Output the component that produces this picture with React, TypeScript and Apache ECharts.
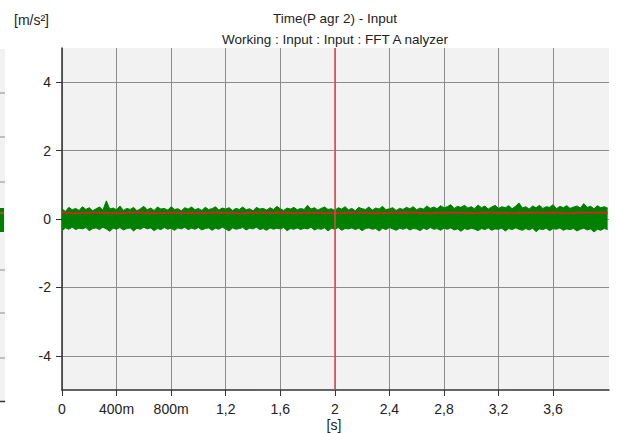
import React, { useEffect, useRef } from 'react';
import * as echarts from 'echarts';

// ---- data ----
const sampleStep = 0.025; // s between envelope samples
const upperEnvelope = [
  0.30, 0.22, 0.34, 0.27, 0.31, 0.25, 0.36, 0.28, 0.33, 0.24,
  0.30, 0.35, 0.26, 0.53, 0.29, 0.32, 0.27, 0.38, 0.25, 0.31,
  0.28, 0.34, 0.24, 0.30, 0.37, 0.27, 0.32, 0.25, 0.35, 0.29,
  0.31, 0.26, 0.36, 0.28, 0.30, 0.24, 0.33, 0.29, 0.35, 0.27,
  0.31, 0.25, 0.34, 0.28, 0.30, 0.36, 0.26, 0.32, 0.29, 0.33,
  0.25, 0.31, 0.28, 0.35, 0.27, 0.30, 0.24, 0.34, 0.29, 0.31,
  0.26, 0.33, 0.28, 0.37, 0.30, 0.25, 0.32, 0.29, 0.34, 0.27,
  0.31, 0.28, 0.40, 0.29, 0.33, 0.26, 0.31, 0.35, 0.28, 0.30,
  0.25, 0.33, 0.29, 0.36, 0.27, 0.31, 0.24, 0.34, 0.30, 0.28,
  0.35, 0.26, 0.32, 0.29, 0.37, 0.27, 0.30, 0.33, 0.25, 0.31,
  0.28, 0.34, 0.30, 0.36, 0.27, 0.32, 0.29, 0.38, 0.31, 0.35,
  0.30, 0.39, 0.33, 0.36, 0.42, 0.31, 0.37, 0.34, 0.40, 0.32,
  0.36, 0.30, 0.41, 0.33, 0.38, 0.29, 0.35, 0.40, 0.31, 0.36,
  0.33, 0.39, 0.30, 0.37, 0.47, 0.32, 0.36, 0.29, 0.38, 0.33,
  0.40, 0.31, 0.36, 0.34, 0.42, 0.30, 0.37, 0.33, 0.39, 0.31,
  0.35, 0.38, 0.32, 0.45, 0.34, 0.37, 0.30, 0.39, 0.33, 0.36,
  0.32,
];
const lowerEnvelope = [
  -0.35, -0.26, -0.30, -0.24, -0.31, -0.27, -0.29, -0.25, -0.34, -0.28,
  -0.26, -0.31, -0.24, -0.29, -0.36, -0.27, -0.30, -0.25, -0.32, -0.28,
  -0.26, -0.35, -0.27, -0.30, -0.24, -0.29, -0.26, -0.34, -0.28, -0.31,
  -0.25, -0.30, -0.27, -0.33, -0.26, -0.29, -0.24, -0.31, -0.27, -0.30,
  -0.25, -0.32, -0.28, -0.26, -0.33, -0.27, -0.30, -0.24, -0.29, -0.35,
  -0.26, -0.30, -0.28, -0.25, -0.32, -0.27, -0.29, -0.24, -0.31, -0.28,
  -0.33, -0.26, -0.30, -0.27, -0.29, -0.25, -0.34, -0.28, -0.30, -0.26,
  -0.31, -0.27, -0.29, -0.24, -0.32, -0.28, -0.30, -0.26, -0.35, -0.27,
  -0.30, -0.25, -0.33, -0.28, -0.29, -0.26, -0.31, -0.27, -0.34, -0.28,
  -0.26, -0.30, -0.28, -0.35, -0.27, -0.31, -0.25, -0.29, -0.33, -0.27,
  -0.30, -0.26, -0.32, -0.28, -0.29, -0.34, -0.27, -0.31, -0.25, -0.30,
  -0.28, -0.33, -0.27, -0.30, -0.26, -0.32, -0.29, -0.36, -0.28, -0.31,
  -0.27, -0.30, -0.34, -0.28, -0.31, -0.26, -0.33, -0.29, -0.30, -0.27,
  -0.35, -0.28, -0.31, -0.26, -0.30, -0.33, -0.28, -0.32, -0.27, -0.37,
  -0.29, -0.31, -0.27, -0.34, -0.28, -0.30, -0.26, -0.33, -0.29, -0.31,
  -0.28, -0.35, -0.30, -0.27, -0.32, -0.29, -0.38, -0.30, -0.33, -0.28,
  -0.31,
];
const redStep = 0.1;
const redLevel = [
  0.18, 0.17, 0.18, 0.18, 0.17, 0.18, 0.19, 0.17, 0.18, 0.18,
  0.17, 0.18, 0.18, 0.17, 0.18, 0.18, 0.19, 0.17, 0.18, 0.18,
  0.17, 0.18, 0.18, 0.17, 0.18, 0.19, 0.18, 0.17, 0.18, 0.18,
  0.17, 0.18, 0.18, 0.17, 0.18, 0.18, 0.19, 0.17, 0.18, 0.18,
  0.18,
];
const cursorTime = 2;
const xTickValues = [0, 0.4, 0.8, 1.2, 1.6, 2, 2.4, 2.8, 3.2, 3.6];
const xTickLabels = ['0', '400m', '800m', '1,2', '1,6', '2', '2,4', '2,8', '3,2', '3,6'];
const yTickValues = [-4, -2, 0, 2, 4];
const yTickLabels = ['-4', '-2', '0', '2', '4'];
const titleLine1 = 'Time(P agr 2) - Input';
const titleLine2 = 'Working : Input : Input : FFT A nalyzer';
const yUnit = '[m/s²]';
const xUnit = '[s]';

const FONT = '"Liberation Sans", Arial, sans-serif';
const GREEN = '#008000';

function labelFor(values: number[], labels: string[], v: number): string {
  const i = values.findIndex((t) => Math.abs(t - v) < 1e-6);
  return i >= 0 ? labels[i] : '';
}

export default function App() {
  const ref = useRef<HTMLDivElement>(null);
  useEffect(() => {
    document.body.style.margin = '0';
    if (!ref.current) return;
    const chart = echarts.init(ref.current, undefined, { renderer: 'svg' });
    const upperData = upperEnvelope.map((v, i) => [i * sampleStep, v]);
    const lowerData = lowerEnvelope.map((v, i) => [i * sampleStep, v]);
    const redData = redLevel.map((v, i) => [i * redStep, v]);
    const textEl = (text: string, x: number, y: number, align: string, size: number) => ({
      type: 'text',
      x,
      y,
      silent: true,
      style: { text, fill: '#222', font: `${size}px ${FONT}`, align, verticalAlign: 'middle' },
    });
    chart.setOption({
      animation: false,
      grid: {
        left: 62, right: 8, top: 48, bottom: 43,
        show: true, backgroundColor: '#f2f2f2', borderWidth: 0,
      },
      xAxis: {
        type: 'value', min: 0, max: 4.01,
        axisLine: { show: true, onZero: false, lineStyle: { color: '#333', width: 1.5 } },
        axisTick: { show: true, length: 6, customValues: xTickValues, lineStyle: { color: '#333' } },
        axisLabel: {
          customValues: xTickValues, margin: 12, color: '#222', fontSize: 14, fontFamily: FONT,
          formatter: (v: number) => labelFor(xTickValues, xTickLabels, v),
        },
        splitLine: { show: true, lineStyle: { color: '#8c8c8c', width: 1 } },
      },
      yAxis: {
        type: 'value', min: -5, max: 5,
        axisLine: { show: true, onZero: false, lineStyle: { color: '#333', width: 1.5 } },
        axisTick: { show: true, length: 6, customValues: yTickValues, lineStyle: { color: '#333' } },
        axisLabel: {
          customValues: yTickValues, margin: 11, color: '#222', fontSize: 14, fontFamily: FONT,
          formatter: (v: number) => labelFor(yTickValues, yTickLabels, v),
        },
        splitLine: { show: true, lineStyle: { color: '#8c8c8c', width: 1 } },
      },
      series: [
        {
          type: 'line', data: upperData, symbol: 'none', z: 2,
          lineStyle: { color: GREEN, width: 1 }, areaStyle: { color: GREEN, opacity: 1 },
        },
        {
          type: 'line', data: lowerData, symbol: 'none', z: 2,
          lineStyle: { color: GREEN, width: 1 }, areaStyle: { color: GREEN, opacity: 1 },
        },
        {
          type: 'line', data: redData, symbol: 'none', z: 3,
          lineStyle: { color: '#c42a1e', width: 2 },
          markLine: {
            symbol: 'none', silent: true, animation: false,
            label: { show: false },
            lineStyle: { color: '#e04848', width: 1.5, type: 'solid' },
            data: [{ xAxis: cursorTime }],
          },
        },
      ],
      graphic: [
        textEl(yUnit, 14, 20, 'left', 14),
        textEl(titleLine1, 335, 18, 'center', 13.5),
        textEl(titleLine2, 335, 39, 'center', 13.5),
        textEl(xUnit, 334, 425, 'center', 14),
        // sliver of neighbouring panel at the left edge
        { type: 'rect', silent: true, shape: { x: 0, y: 49, width: 5, height: 353 }, style: { fill: '#f2f2f2' } },
        ...[93, 137, 182, 270, 313, 358].map((y) => ({
          type: 'line', silent: true, shape: { x1: 0, y1: y, x2: 5, y2: y }, style: { stroke: '#8c8c8c', lineWidth: 1 },
        })),
        { type: 'line', silent: true, shape: { x1: 0, y1: 401.5, x2: 5, y2: 401.5 }, style: { stroke: '#333', lineWidth: 1.5 } },
        { type: 'rect', silent: true, shape: { x: 0, y: 208, width: 4, height: 24 }, style: { fill: GREEN } },
        { type: 'line', silent: true, shape: { x1: 0, y1: 213, x2: 4, y2: 213 }, style: { stroke: '#e04040', lineWidth: 1.5 } },
      ],
    });
    return () => chart.dispose();
  }, []);
  return <div ref={ref} style={{ width: 617, height: 433 }} />;
}
